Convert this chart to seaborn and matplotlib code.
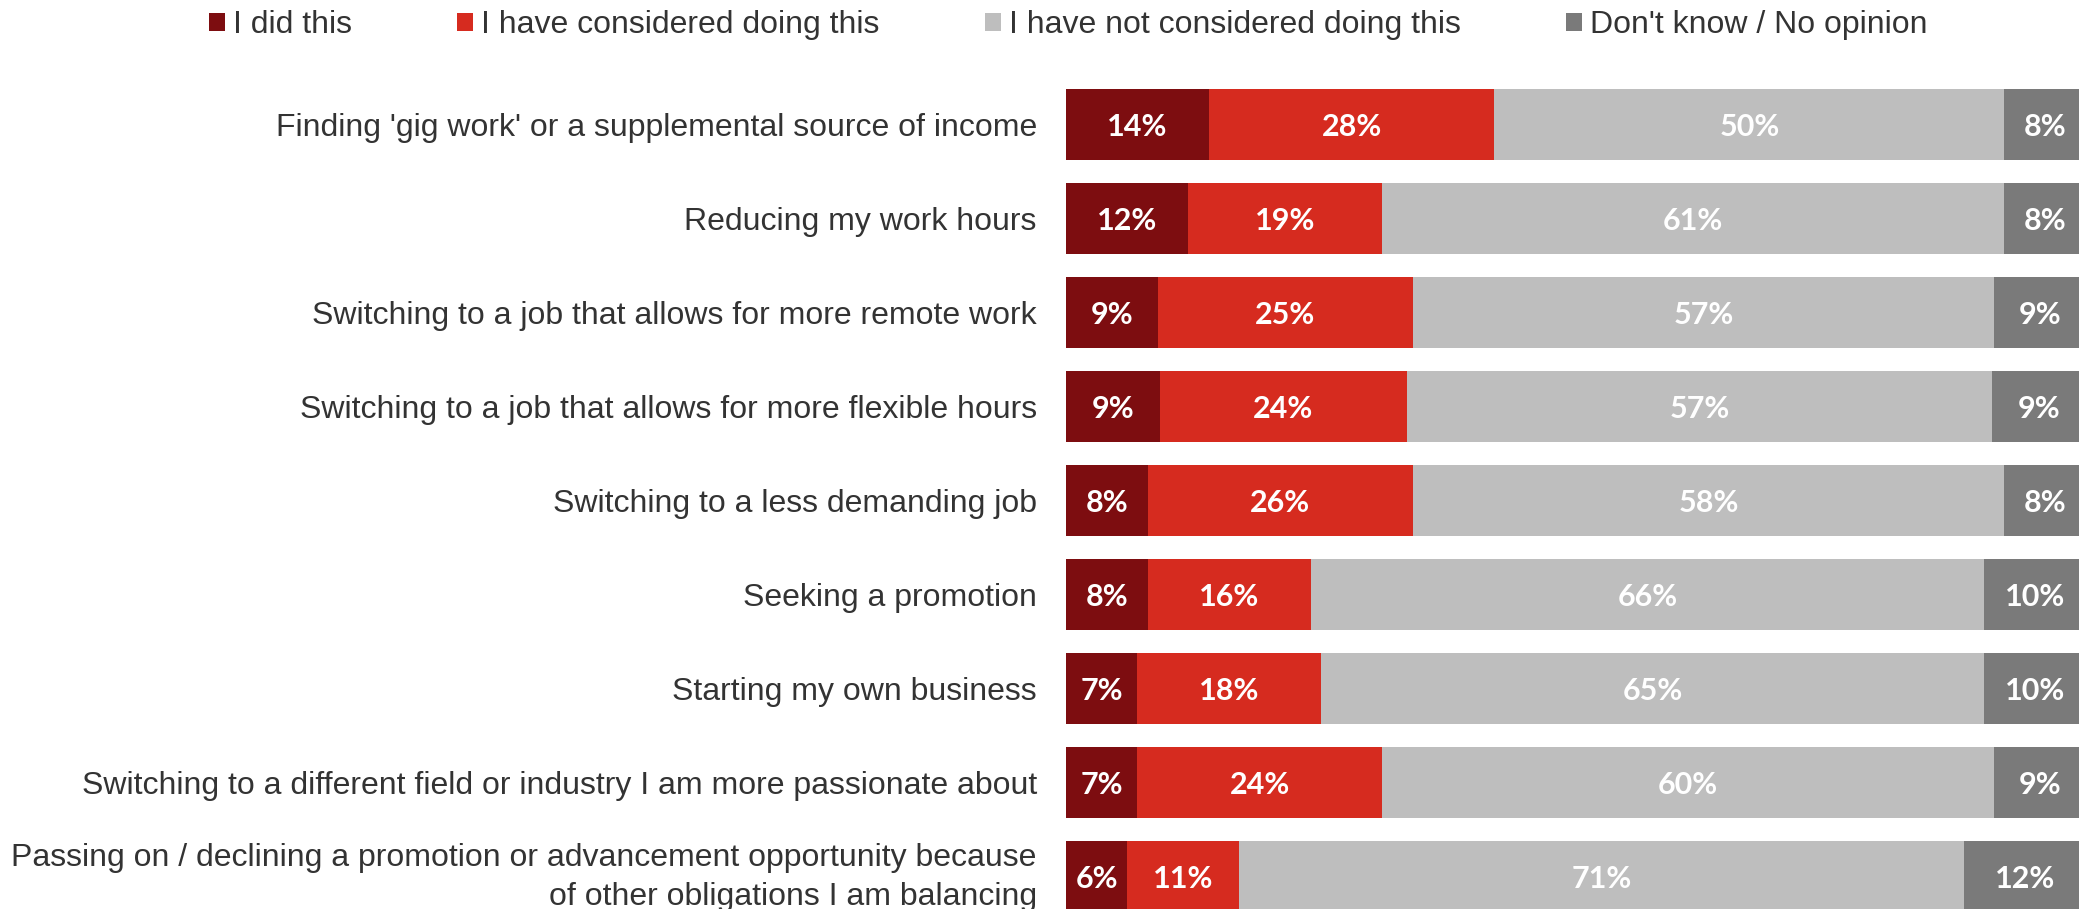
import matplotlib
matplotlib.use("Agg")
import matplotlib.pyplot as plt
import matplotlib.transforms as mtransforms
import seaborn as sns
import numpy as np
import pandas as pd
from matplotlib.patches import Patch

categories = [
    "Finding 'gig work' or a supplemental source of income",
    "Reducing my work hours",
    "Switching to a job that allows for more remote work",
    "Switching to a job that allows for more flexible hours",
    "Switching to a less demanding job",
    "Seeking a promotion",
    "Starting my own business",
    "Switching to a different field or industry I am more passionate about",
    "Passing on / declining a promotion or advancement opportunity because\nof other obligations I am balancing",
]
series_names = ["I did this", "I have considered doing this",
                "I have not considered doing this", "Don't know / No opinion"]
did_this = [14, 12, 9, 9.2, 8, 8, 7, 7, 6]
considered = [28, 19, 25, 24.2, 26, 16, 18, 24, 11]
not_considered = [50, 61, 57, 57.4, 58, 66, 65, 60, 71]
dont_know = [8, 8, 9, 9.2, 8, 10, 10, 9, 12]

colors = ["#7D0D10", "#D62B1F", "#BEBEBE", "#7A7A7A"]

sns.set_theme(style="white")
plt.rcParams["font.family"] = ["Liberation Sans", "DejaVu Sans"]

W, H = 2079, 909
fig = plt.figure(figsize=(W / 100, H / 100), dpi=100)
ax_left = 1066 / W
ax_w = 1020 / W
top_px = 124.6 - 47
bot_px = 876.5 + 47
ax = fig.add_axes([ax_left, (H - bot_px) / H, ax_w, (bot_px - top_px) / H])

series = [did_this, considered, not_considered, dont_know]
vals = np.array(series, dtype=float)
cum = np.cumsum(vals, axis=0)

# draw from largest cumulative to smallest so layers stack
for i in range(3, -1, -1):
    df = pd.DataFrame({"cat": categories, "v": cum[i]})
    sns.barplot(data=df, x="v", y="cat", orient="h", color=colors[i],
                width=0.76, saturation=1, linewidth=0, ax=ax)

for i in range(4):
    for j in range(len(categories)):
        start = cum[i][j] - vals[i][j]
        ax.text(start + vals[i][j] / 2, j, f"{vals[i][j]:.0f}%",
                ha="center", va="center_baseline", color="white",
                fontsize=22, fontweight="bold", family=["Lato", "DejaVu Sans"])

ax.set_xlim(0, 100)
ax.set_ylim(8.5, -0.5)
ax.set_xlabel("")
ax.set_ylabel("")
ax.set_xticks([])
for s in ax.spines.values():
    s.set_visible(False)
ax.tick_params(axis="y", length=0, pad=21, labelsize=23, labelcolor="#333333")
labels = ax.get_yticklabels()
for lab in labels:
    lab.set_horizontalalignment("right")
    lab.set_linespacing(1.38)
last = labels[-1]
last.set_transform(last.get_transform()
                   + mtransforms.ScaledTranslation(0, 5 / 72, fig.dpi_scale_trans))

handles = [Patch(facecolor=c, edgecolor="none") for c in colors]
fig.legend(handles, series_names, loc="center left",
           bbox_to_anchor=(209 / W, 1 - 25 / H), ncol=4, frameon=False,
           fontsize=23, handlelength=0.5, handleheight=0.5,
           handletextpad=0.25, columnspacing=3.3, borderpad=0, borderaxespad=0,
           labelcolor="#333333")

fig.savefig("out.png", dpi=100)
